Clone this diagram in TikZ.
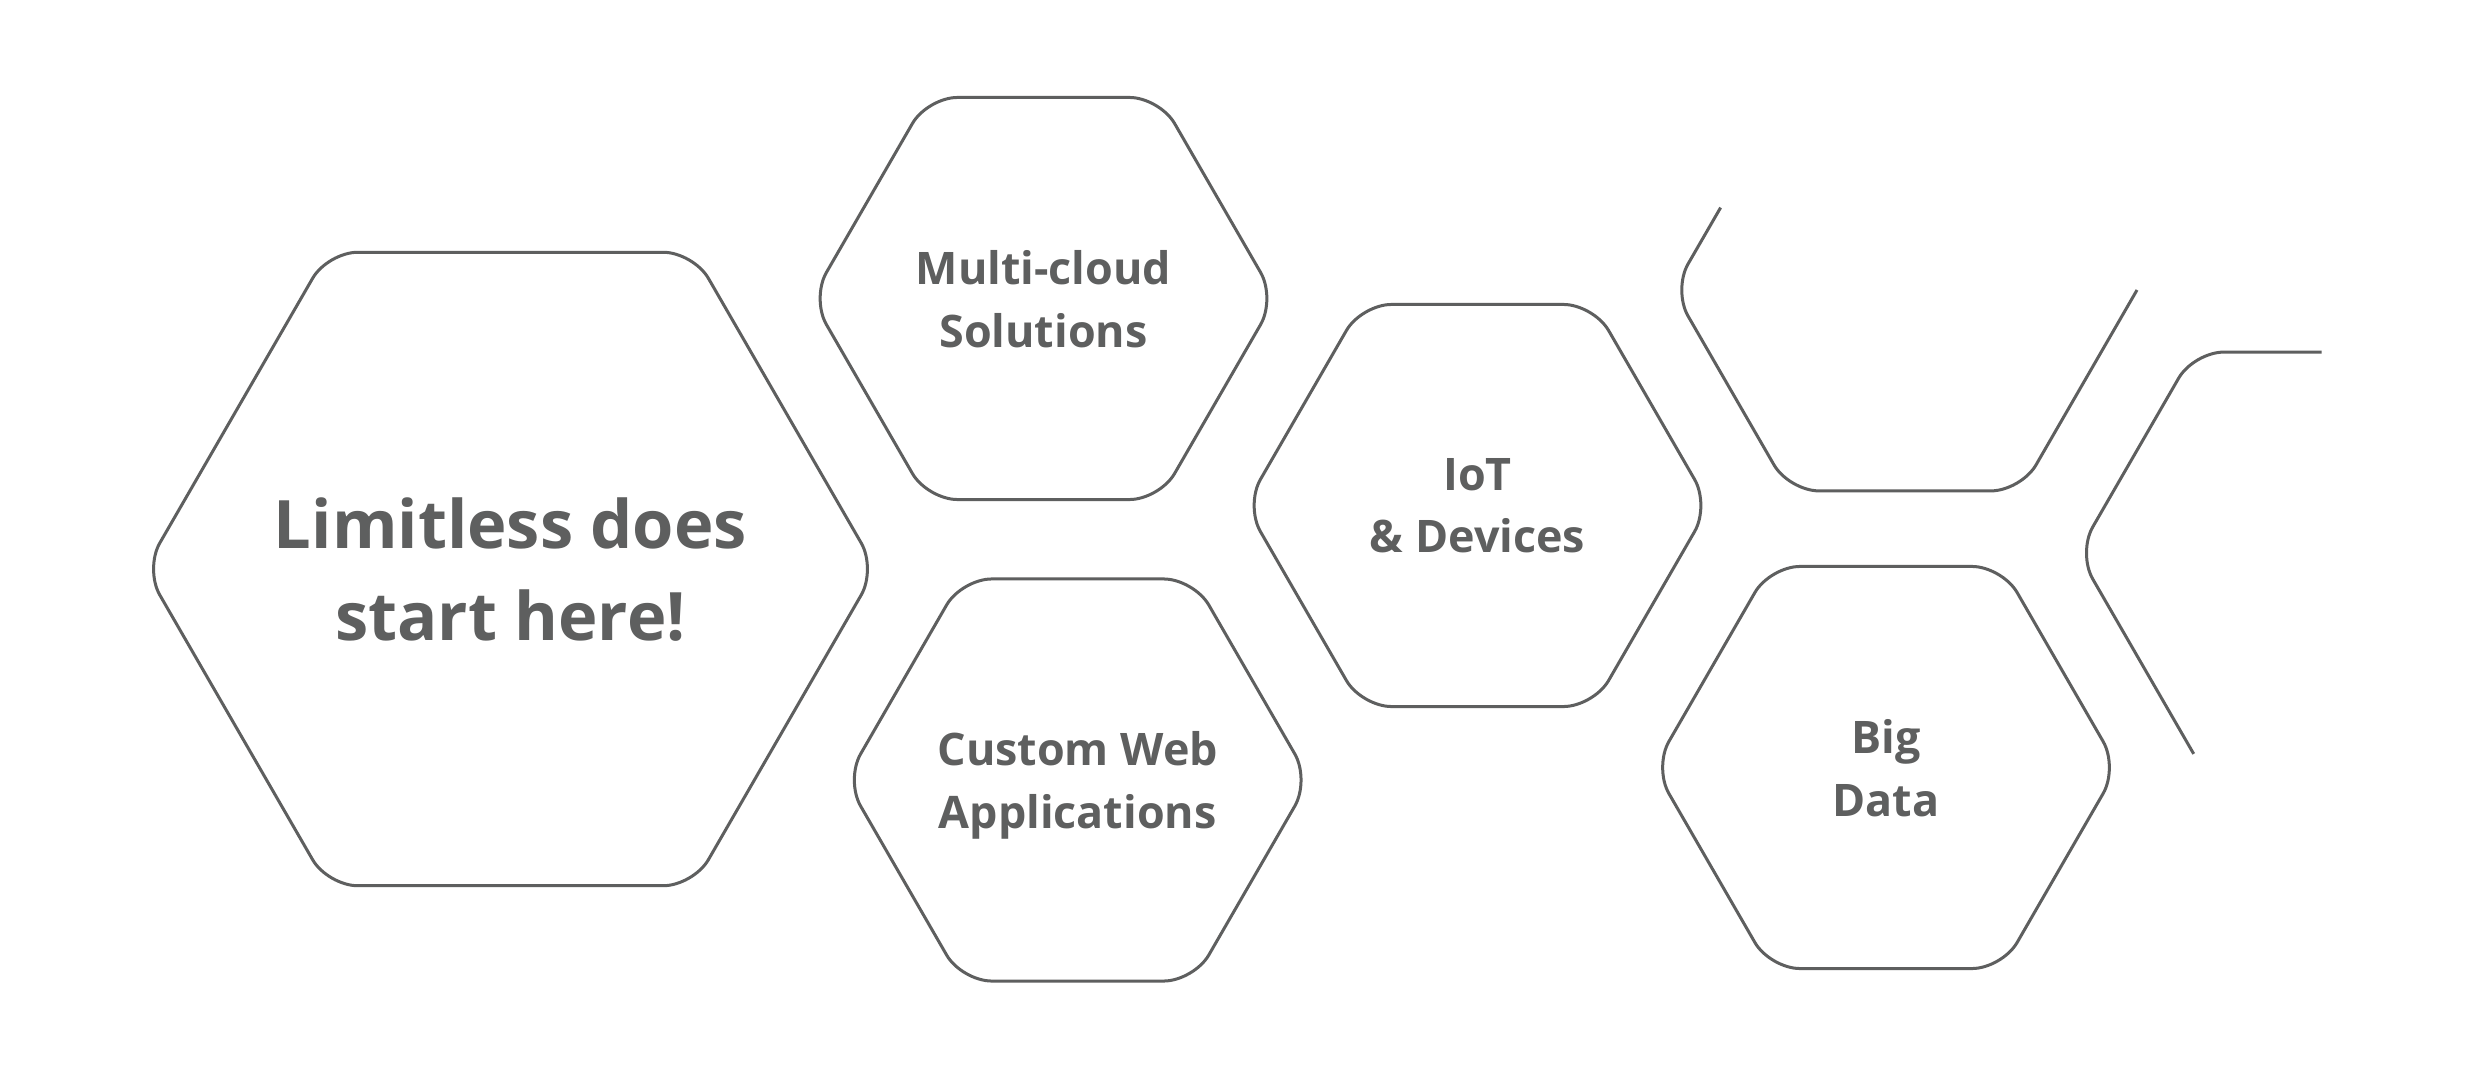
\documentclass[tikz,border=0pt]{standalone}
\usepackage{fontspec}
\setmainfont{Open Sans}
\usetikzlibrary{shapes.geometric}
\definecolor{hexgray}{RGB}{94,95,95}
\begin{document}
\begin{tikzpicture}[x=0.01cm,y=-0.01cm,
  hexnode/.style={regular polygon, regular polygon sides=6, draw=hexgray, line width=0.03cm,
    rounded corners=0.3cm, inner sep=0pt},
  smallhex/.style={hexnode, minimum size=4.64cm},
  bighex/.style={hexnode, minimum size=7.31cm},
  hextext/.style={text=hexgray, align=center, inner sep=0pt, text depth=0pt},
  smalltext/.style={hextext, font=\fontsize{12.75pt}{17.9pt}\selectfont\bfseries},
  bigtext/.style={hextext, font=\fontsize{19pt}{26.1pt}\selectfont\bfseries},
  openhex/.style={draw=hexgray, line width=0.03cm, rounded corners=0.3cm}]
\useasboundingbox (0,0) rectangle (2466,1079);
\fill[white] (0,0) rectangle (2466,1079);

\node[bighex] (start) at (510.5,569) {};
\node[smallhex] (cloud) at (1043.5,298.5) {};
\node[smallhex] (web) at (1077.7,780) {};
\node[smallhex] (iot) at (1477.5,505.5) {};
\node[smallhex] (data) at (1886,767.5) {};

\node[bigtext] (starttext) at (start.center) {Limitless does\\start here!};
\node[smalltext] (cloudtext) at (cloud.center) {Multi-cloud\\Solutions};
\node[smalltext] (webtext) at (web.center) {Custom Web\\Applications};
\node[smalltext] (iottext) at (iot.center) {IoT\\\& Devices};
\node[smalltext] (datatext) at (data.center) {Big\\Data};

% open hexagon, upper right
\coordinate (a0) at (1720.6,207.6);
\coordinate (a1) at (1673,290);
\coordinate (a2) at (1789,490.9);
\coordinate (a3) at (2021,490.9);
\coordinate (a4) at (2137,290);
\draw[openhex] (a0) -- (a1) -- (a2) -- (a3) -- (a4);

% open hexagon, far right
\coordinate (b0) at (2321.7,352.1);
\coordinate (b1) at (2193.7,352.1);
\coordinate (b2) at (2077.7,553);
\coordinate (b3) at (2193.7,753.9);
\draw[openhex] (b0) -- (b1) -- (b2) -- (b3);
\end{tikzpicture}
\end{document}
